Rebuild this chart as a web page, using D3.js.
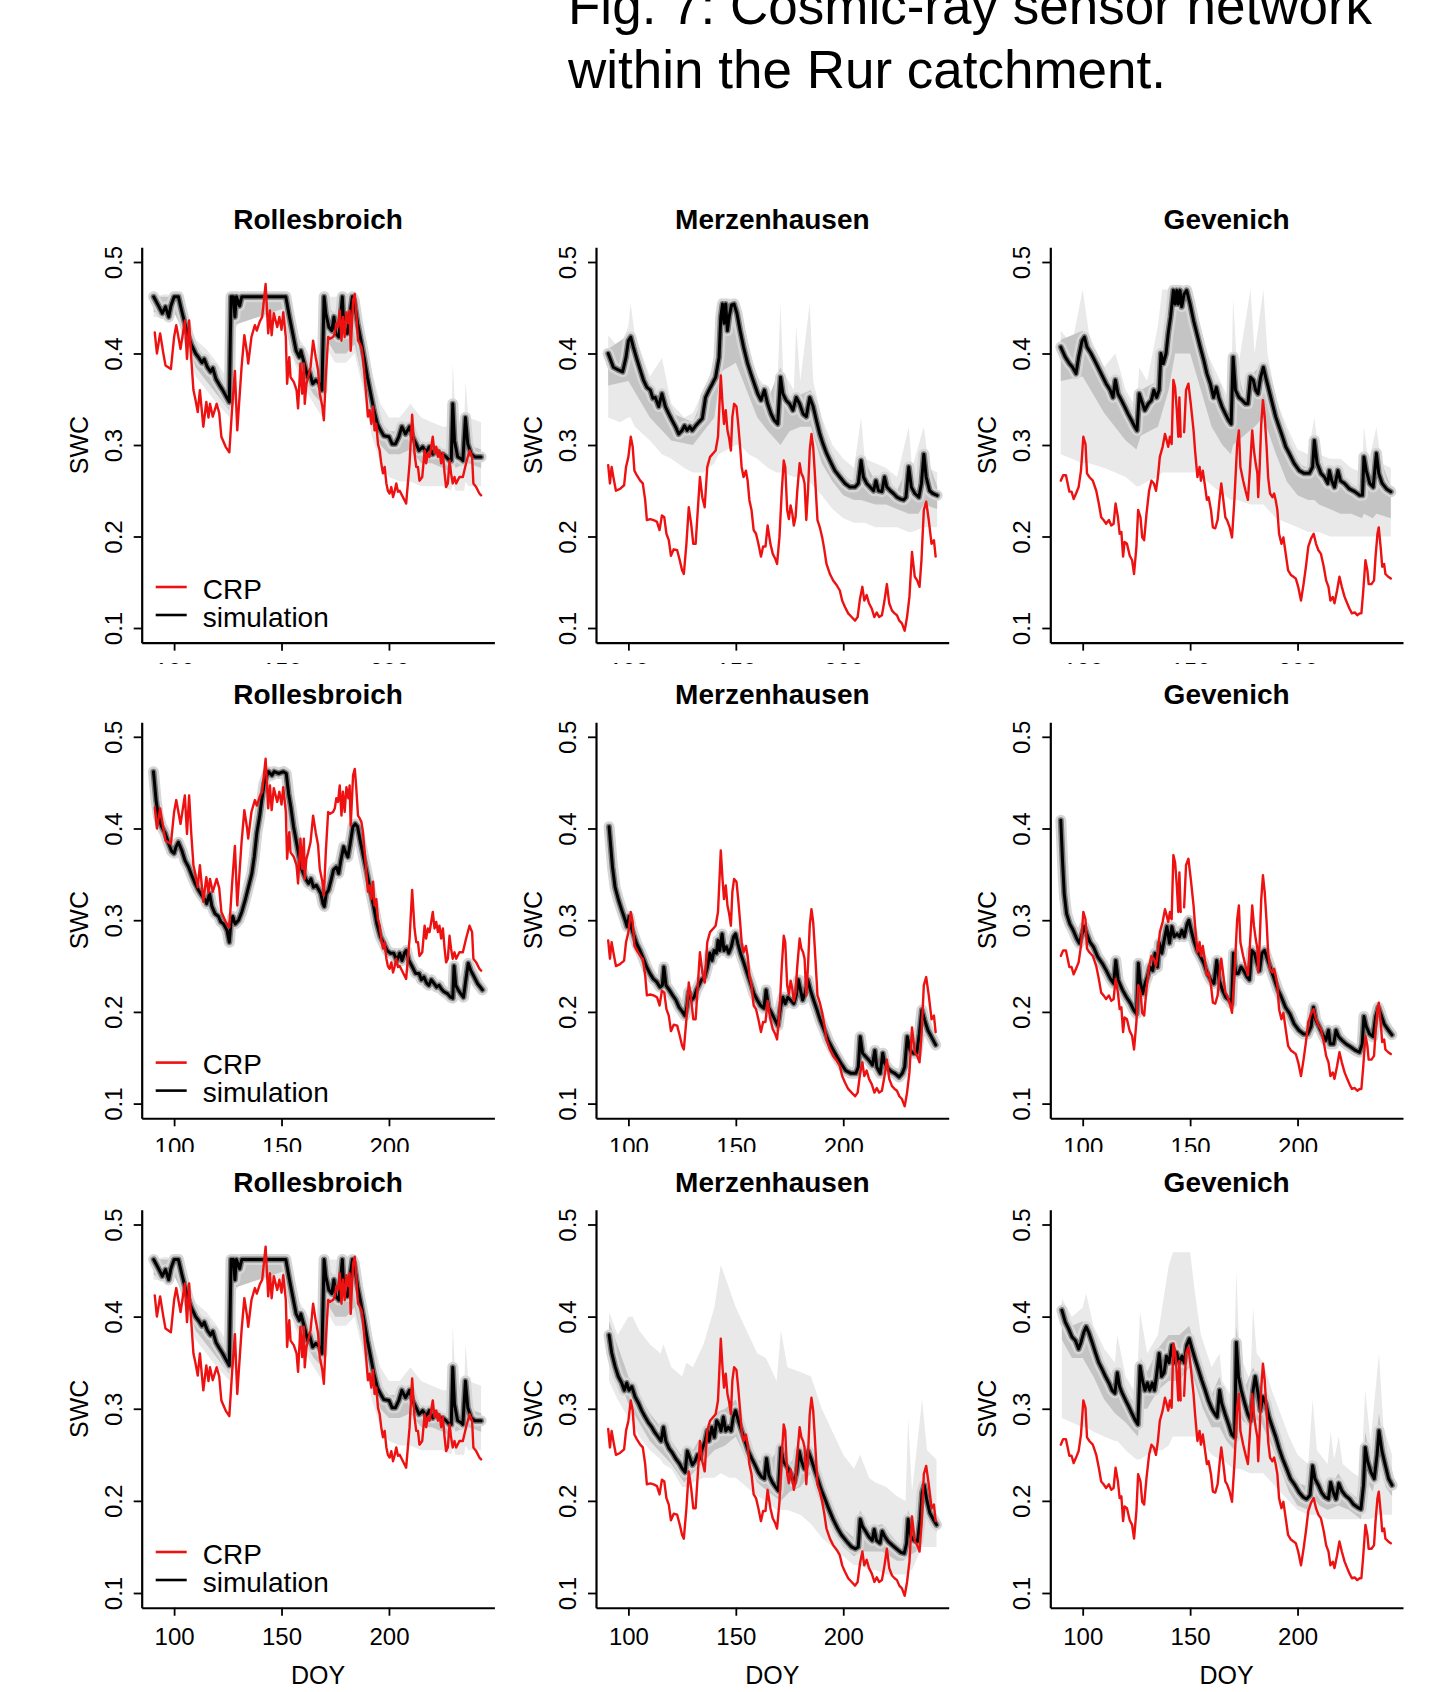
<!DOCTYPE html>
<html>
<head>
<meta charset="utf-8">
<script src="https://cdn.jsdelivr.net/npm/d3@7"></script>
<style>
  body { margin: 0; background: #fff; }
  svg { display: block; }
  text { font-family: "Liberation Sans", Arial, Helvetica, sans-serif; fill: #000; }
</style>
</head>
<body>
<svg id="chart" width="1451" height="1692"></svg>
<script>
// ---- data ---------------------------------------------------------------
const stations = ["Rollesbroich", "Merzenhausen", "Gevenich"];
const doyTicks = [100, 150, 200];
const swcTicks = [0.1, 0.2, 0.3, 0.4, 0.5];
const legendLabels = ["CRP", "simulation"];
const titleLines = ["Fig. 7: Cosmic-ray sensor network", "within the Rur catchment."];

// observed (CRP) soil water content, [DOY, SWC]
const crpRollesbroich = [[91,.423],[92,.400],[93.5,.422],[95,.400],[96,.387],[98.5,.383],[100,.418],[101,.431],[103,.405],[105,.436],[106,.394],[107,.436],[108,.394],[109,.360],[110,.349],[111,.336],[112,.360],[113.6,.320],[115,.347],[116,.330],[116.7,.345],[118,.331],[119.8,.345],[121,.335],[122,.309],[124,.298],[125.7,.292],[127,.340],[128.3,.381],[129.4,.316],[131.4,.385],[132.7,.420],[134,.400],[134.5,.389],[136,.418],[137.6,.431],[138.5,.425],[139.9,.435],[141,.440],[142.6,.476],[143.8,.422],[144.6,.447],[145.4,.420],[146.4,.444],[148,.429],[149,.440],[150,.426],[150.8,.445],[152,.418],[152.6,.367],[153.6,.396],[154.2,.374],[155.7,.369],[157,.360],[157.7,.340],[158.8,.389],[159.6,.356],[160.4,.389],[160.8,.345],[161.6,.367],[162.4,.374],[163.5,.385],[164.7,.414],[165.9,.396],[167,.382],[167.8,.356],[169,.342],[169.7,.327],[170.6,.374],[171.7,.418],[172.4,.416],[174,.418],[174.8,.422],[175.5,.433],[176.3,.429],[177.1,.447],[177.9,.414],[178.6,.440],[179.4,.418],[180.2,.445],[181.1,.433],[181.7,.447],[182.2,.403],[183.3,.458],[184.1,.465],[184.8,.444],[185.6,.414],[186.4,.411],[187.2,.407],[187.9,.396],[188.7,.374],[189.5,.352],[190.2,.331],[191,.338],[191.8,.323],[192.6,.342],[193.3,.316],[194.1,.323],[194.9,.301],[195.7,.294],[196.4,.280],[197.2,.269],[198,.276],[198.8,.258],[199.5,.250],[200.3,.247],[201.1,.254],[201.9,.243],[202.6,.249],[203.4,.258],[204.2,.249],[205,.250],[206.5,.243],[208,.236],[209.6,.280],[210.8,.333],[211.9,.291],[212.7,.276],[213.5,.276],[214.2,.261],[215.5,.265],[216.6,.294],[217.3,.280],[218.1,.291],[218.9,.287],[220.4,.309],[221.2,.291],[222,.298],[222.8,.287],[223.5,.294],[224.3,.280],[225.1,.291],[225.9,.269],[226.6,.254],[227.4,.258],[228.2,.283],[228.9,.269],[229.7,.258],[230.5,.265],[231.3,.258],[232.8,.265],[234.4,.265],[235.9,.280],[237.5,.294],[238.7,.287],[239.3,.258],[240.6,.254],[242.1,.247],[242.9,.245]];

const crpMerzenhausen = [[90.6,.278],[91.4,.258],[92.2,.276],[93,.265],[94.2,.250],[96.1,.252],[98,.256],[98.9,.276],[100,.287],[101.1,.309],[102,.298],[102.8,.272],[103.9,.267],[105.5,.261],[106.7,.258],[107.8,.240],[108.6,.218],[110.2,.219],[111.7,.218],[113.3,.216],[114.5,.207],[115.6,.223],[116.7,.221],[117.7,.203],[118.8,.196],[119.8,.179],[121.1,.186],[122.7,.185],[123.9,.174],[125,.163],[125.8,.159],[127,.192],[128.1,.232],[129.2,.214],[130.2,.192],[131.3,.192],[132,.218],[133.3,.265],[134.4,.243],[135.5,.232],[136.7,.276],[138,.287],[139.5,.291],[140.6,.294],[141.7,.309],[143,.376],[143.8,.345],[144.5,.323],[145.3,.338],[146.1,.316],[146.9,.307],[147.7,.294],[148.4,.331],[149.2,.345],[150.3,.342],[151.1,.323],[152,.298],[152.7,.276],[153.6,.265],[154.7,.272],[155.5,.261],[156.3,.240],[157.3,.229],[158.3,.207],[159.4,.203],[160.5,.192],[161.7,.178],[162.7,.189],[163.8,.189],[164.8,.212],[166.1,.192],[167.2,.181],[168.3,.176],[169.2,.170],[170.3,.199],[171.4,.250],[172.3,.283],[173,.276],[173.9,.229],[174.7,.219],[175.5,.234],[176.3,.225],[177,.212],[177.8,.221],[178.6,.250],[179.7,.280],[180.5,.269],[181.3,.265],[182,.258],[182.8,.218],[183.6,.250],[184.4,.294],[185.2,.312],[186,.298],[186.7,.272],[188,.218],[189.1,.210],[190.2,.199],[191.1,.187],[192.2,.170],[193.8,.159],[195.3,.152],[196.9,.147],[198.4,.141],[199.5,.130],[200.8,.123],[202.3,.116],[203.9,.112],[205.5,.108],[206.7,.112],[207.8,.132],[208.9,.145],[209.8,.130],[210.9,.136],[212,.127],[213.3,.121],[214.5,.112],[215.6,.117],[216.7,.112],[218,.114],[219.2,.130],[220.3,.148],[221.4,.127],[222.7,.119],[223.9,.116],[225,.114],[226.1,.108],[227.3,.105],[228.6,.097],[229.7,.112],[230.8,.134],[232,.183],[233.3,.156],[234.4,.152],[235.5,.145],[236.4,.174],[237.5,.229],[238.6,.238],[239.8,.218],[241.1,.192],[242.2,.196],[243,.178]];

const crpGevenich = [[89.8,.261],[90.9,.267],[92.2,.267],[93,.258],[93.8,.249],[94.8,.249],[95.8,.241],[96.9,.247],[98.1,.254],[99.2,.272],[100.3,.309],[101.3,.301],[102,.269],[103.1,.265],[104.7,.261],[106.3,.250],[107.5,.236],[108.6,.221],[109.7,.218],[110.9,.214],[112.2,.218],[113.3,.212],[114.4,.214],[115.3,.236],[116.4,.221],[117.2,.203],[118,.205],[118.8,.178],[119.5,.194],[120.6,.192],[121.9,.179],[123,.174],[123.9,.159],[125,.189],[125.8,.229],[126.9,.221],[127.7,.199],[128.6,.196],[129.7,.225],[130.9,.250],[132,.261],[133.1,.258],[134.1,.250],[135,.265],[135.9,.287],[137.2,.298],[138.3,.312],[139.1,.305],[139.8,.298],[140.6,.309],[141.4,.301],[142.2,.371],[143,.363],[143.8,.338],[144.5,.309],[145,.352],[145.6,.309],[146.4,null],[147.2,.314],[148.1,.360],[149.2,.367],[150.3,.345],[151.6,.316],[152.3,.294],[153.4,.265],[154.4,.276],[155,.261],[155.9,.272],[157,.254],[157.8,.240],[158.6,.243],[159.7,.229],[160.6,.210],[161.7,.209],[162.8,.218],[163.8,.243],[164.5,.258],[165.3,.243],[166.4,.221],[167.2,.218],[168.4,.210],[169.5,.199],[170.6,.240],[171.9,.301],[172.7,.316],[173.4,.276],[174.7,.261],[175.8,.250],[176.9,.240],[177.8,.272],[178.9,.316],[179.7,.294],[180.5,.280],[181.3,.269],[181.7,.243],[182.3,.272],[183.1,.323],[183.9,.349],[184.7,.331],[185.6,.298],[186.3,.265],[187.2,.247],[188.3,.243],[189.1,.247],[189.8,.240],[190.6,.229],[191.4,.203],[192.5,.192],[193.4,.199],[194.5,.181],[195.6,.163],[196.9,.158],[198.1,.156],[199.2,.154],[200.3,.145],[201.6,.130],[202.8,.148],[203.9,.167],[205,.189],[206.3,.198],[207.5,.203],[208.6,.192],[209.7,.185],[210.9,.181],[212.2,.167],[213.3,.152],[214.4,.145],[215.3,.130],[216.4,.134],[217.2,.127],[218.4,.141],[219.5,.156],[220.6,.145],[221.9,.134],[223.1,.127],[224.2,.121],[225.3,.116],[226.6,.117],[227.8,.114],[228.9,.116],[229.7,.116],[230.5,.138],[231.6,.174],[232.5,.163],[233.1,.148],[234.4,.148],[235.6,.152],[236.3,.178],[237.2,.203],[237.8,.210],[238.8,.185],[239.4,.167],[240.3,.170],[240.9,.159],[242.2,.156],[243.4,.154]];

// simulated SWC (median), row 1
const simRollesbroich1 = [[90.5,.462],[93,.451],[94.5,.444],[96,.451],[97.5,.440],[98.5,.452],[100,.462],[102,.462],[103.5,.447],[105,.433],[106.5,.420],[108,.410],[110,.400],[111.6,.395],[113,.390],[114,.394],[115.5,.385],[117,.380],[118,.384],[119.5,.372],[121,.366],[122.6,.360],[124,.354],[125.7,.347],[126.5,.462],[127.6,.462],[128.3,.440],[129,.462],[130.5,.452],[131.5,.462],[152,.462],[153.7,.440],[155.2,.422],[156.8,.403],[158.3,.396],[159,.403],[160.6,.389],[162.2,.374],[163,.380],[164.5,.367],[166,.371],[167.6,.367],[168.8,.360],[169.8,.462],[170.6,.444],[172,.429],[173.4,.425],[174.4,.440],[175.2,.422],[176.7,.418],[178.3,.462],[179,.429],[180.6,.422],[183,.462],[183.8,.458],[185.4,.433],[187,.414],[188.4,.396],[190,.374],[191.5,.356],[193,.338],[194.6,.323],[196.1,.316],[197.6,.310],[200,.309],[201.5,.301],[203,.301],[204.6,.309],[206,.320],[207.7,.312],[209.6,.320],[211,.309],[212.7,.301],[214,.294],[215.7,.298],[217.3,.292],[218.8,.298],[220.4,.290],[222,.294],[223.5,.290],[225,.290],[226.6,.287],[228.2,.283],[229,.283],[229.7,.345],[230.5,.305],[232,.287],[233.6,.285],[234.4,.283],[235.6,.330],[236.7,.301],[238.3,.290],[240,.287],[242.9,.287]];

const simMerzenhausen1 = [[90.6,.400],[93,.385],[95.3,.382],[97.3,.380],[98.9,.396],[100,.414],[101.1,.418],[102.3,.407],[103.9,.394],[105.5,.382],[107,.371],[108.6,.363],[110.2,.360],[111.4,.351],[112.5,.352],[114.1,.342],[115.6,.356],[117.2,.342],[118.8,.334],[120.3,.327],[121.9,.320],[123.4,.312],[125,.316],[126.1,.321],[127.3,.316],[128.6,.320],[129.7,.316],[131.3,.321],[132.8,.325],[134.4,.329],[135.9,.352],[137.5,.360],[139.1,.367],[140.6,.374],[142.2,.396],[143,.440],[143.8,.454],[144.5,.433],[145.3,.454],[146.1,.425],[146.9,.440],[148,.453],[149.2,.454],[150.5,.444],[152,.425],[153.6,.407],[155.5,.389],[157,.378],[158.6,.367],[160.2,.356],[161.7,.349],[163.3,.360],[164.8,.345],[166.4,.334],[167.9,.327],[169.5,.323],[170.8,.374],[171.9,.356],[173.4,.349],[175,.345],[176.6,.338],[178.1,.352],[179.7,.345],[181.3,.334],[182.8,.331],[184.4,.352],[186,.342],[187.5,.327],[189.1,.312],[190.6,.301],[192.2,.291],[193.8,.283],[196.1,.272],[198.4,.265],[200.8,.258],[203.1,.254],[205.5,.254],[207,.258],[208.3,.283],[209.4,.265],[210.9,.258],[212.5,.254],[214.1,.250],[215.2,.261],[216.4,.250],[218,.249],[219.2,.265],[220.3,.254],[221.9,.250],[223.4,.247],[225,.243],[226.6,.241],[228.1,.240],[229.2,.243],[230.5,.276],[231.7,.254],[233.3,.247],[235.2,.243],[236.4,.258],[237.5,.290],[238.6,.265],[240.2,.250],[241.7,.247],[243.7,.245]];

const simGevenich1 = [[89.8,.407],[91.9,.396],[93.8,.389],[95.3,.385],[96.9,.378],[98.1,.396],[99.7,.414],[100.8,.418],[102,.407],[103.9,.400],[106.3,.389],[108.6,.378],[110.9,.367],[112.8,.360],[114.1,.352],[115.2,.371],[116.4,.356],[118,.349],[119.5,.342],[121.1,.334],[122.7,.327],[124.2,.320],[125.3,.316],[126.3,.356],[127.3,.349],[128.9,.338],[130.5,.345],[132,.349],[133.1,.360],[134.4,.352],[135.6,.360],[136.4,.400],[137.5,.389],[138.8,.400],[139.8,.422],[140.9,.440],[142.2,.469],[143,.454],[143.8,.469],[144.5,.454],[145.3,.469],[146.1,.451],[147.2,.465],[148.4,.469],[150,.454],[151.6,.436],[153.1,.422],[154.7,.407],[156.3,.393],[157.8,.378],[159.4,.367],[160.9,.352],[162.2,.363],[163.3,.352],[164.8,.342],[166.4,.334],[167.9,.327],[169.1,.323],[170,.396],[171.1,.360],[172.7,.352],[174.2,.349],[175.8,.345],[176.9,.345],[178.1,.374],[179.4,.371],[180.5,.360],[181.6,.356],[182.8,.374],[184.1,.385],[185.2,.374],[186.7,.360],[188.3,.345],[189.8,.331],[191.4,.320],[193,.309],[194.5,.298],[196.1,.291],[198.4,.280],[200.8,.272],[203.1,.269],[205.5,.269],[207,.276],[207.8,.305],[209.1,.280],[210.9,.269],[212.5,.265],[214.1,.258],[214.8,.272],[215.9,.261],[217.2,.254],[218.8,.272],[220,.261],[221.9,.258],[224.2,.252],[226.6,.249],[228.9,.245],[230.2,.245],[230.9,.287],[232,.272],[233.6,.258],[235.2,.254],[236.7,.291],[237.8,.269],[239.4,.258],[241.4,.252],[243.4,.249]];

// simulated SWC, row 2
const simRollesbroich2 = [[90.4,.462],[91.6,.431],[92.7,.413],[94.2,.402],[95.8,.395],[97.4,.384],[98.9,.375],[100,.373],[100.9,.380],[102,.385],[103.6,.376],[105.1,.365],[106.7,.358],[108.2,.349],[109.8,.340],[111.3,.333],[112.9,.327],[114.5,.322],[115.2,.318],[116.5,.329],[117.6,.315],[119.1,.307],[120.7,.304],[121.8,.298],[123,.296],[124.6,.289],[125.7,.276],[126.4,.296],[127.3,.304],[128.4,.296],[130,.300],[131.5,.309],[133.1,.322],[134.6,.336],[136.2,.351],[137.3,.369],[138.5,.395],[139.8,.413],[140.8,.431],[141.9,.449],[143.2,.458],[143.9,.462],[145.5,.458],[146.6,.462],[148.6,.460],[150.9,.462],[152.2,.460],[153.3,.438],[154.3,.424],[155.6,.402],[156.8,.387],[157.9,.373],[159,.358],[160.2,.351],[161.5,.344],[162.6,.340],[163.7,.345],[164.9,.336],[166.2,.338],[167.4,.333],[168.3,.329],[169.3,.318],[169.9,.315],[170.8,.329],[171.9,.333],[173.1,.344],[174.2,.355],[175.5,.358],[176.6,.351],[177.6,.365],[178.9,.380],[180,.373],[180.9,.369],[182,.384],[183.2,.402],[184.3,.405],[185.4,.402],[186.6,.387],[188.2,.369],[189.8,.351],[191.3,.333],[192.9,.315],[194.4,.296],[196,.282],[197.5,.275],[199.1,.267],[200.6,.264],[202.2,.264],[203.7,.256],[205,.264],[206.1,.256],[207.2,.264],[208.1,.267],[209.3,.256],[210.9,.249],[212.4,.242],[214,.242],[215.1,.235],[216.3,.238],[217.6,.231],[218.6,.229],[219.7,.235],[221,.231],[222.2,.227],[223.3,.229],[224.4,.225],[225.6,.222],[227.2,.220],[228.7,.216],[229.7,.215],[230.3,.250],[231.1,.229],[232.2,.224],[233.4,.220],[234.7,.216],[235.8,.235],[236.9,.253],[238.1,.245],[239.7,.238],[241.2,.231],[243.5,.224]];

const simMerzenhausen2 = [[91,.402],[91.8,.380],[92.6,.358],[93.8,.336],[95.4,.322],[96.9,.311],[98.5,.300],[99.4,.293],[100.3,.304],[101.2,.293],[102.3,.285],[103.9,.274],[105.4,.267],[107,.258],[108.5,.249],[110,.242],[111.6,.236],[113.1,.233],[114.7,.227],[115.8,.229],[116.5,.249],[117.5,.229],[119,.224],[120.6,.218],[122.1,.213],[123.6,.205],[125.2,.200],[126.3,.196],[127.2,.205],[128.1,.222],[129.4,.213],[130.6,.216],[131.7,.224],[132.8,.229],[134,.235],[135.5,.238],[136.8,.249],[137.9,.264],[138.9,.256],[139.9,.267],[141,.264],[141.7,.278],[142.5,.267],[143.6,.285],[144.5,.267],[145.6,.271],[146.7,.264],[147.9,.271],[149,.282],[149.9,.285],[151,.274],[152.2,.264],[153.8,.253],[155.3,.242],[156.9,.231],[158.4,.220],[160,.213],[161.5,.207],[163.1,.204],[164.1,.224],[165.2,.205],[166.8,.198],[168.3,.191],[169.6,.185],[170.8,.205],[171.9,.216],[173,.209],[174.2,.216],[175.4,.213],[177,.209],[178.1,.218],[179.1,.235],[180.1,.224],[181.1,.213],[182.2,.220],[183.5,.235],[184.7,.224],[186.2,.213],[187.8,.202],[189.3,.191],[191.2,.180],[193,.169],[195,.160],[197.1,.151],[198.9,.144],[201.2,.136],[203.6,.133],[205.9,.133],[207,.140],[207.9,.173],[209,.155],[210.5,.151],[212.1,.147],[213.6,.142],[214.7,.158],[215.6,.140],[217.2,.133],[218.4,.155],[219.3,.144],[220.9,.138],[222.4,.135],[224,.133],[226,.129],[227.5,.133],[228.6,.140],[229.8,.173],[231.1,.158],[232.6,.155],[234.2,.155],[235.4,.176],[236.6,.202],[237.9,.191],[239.4,.180],[241,.173],[243,.164]];

const simGevenich2 = [[89.8,.409],[90.6,.365],[91.4,.329],[92.5,.307],[94,.296],[95.6,.289],[97.2,.280],[98.4,.275],[99.7,.285],[100.8,.293],[101.9,.285],[103.4,.276],[105,.271],[107,.260],[109.1,.253],[111,.245],[112.9,.236],[114.4,.231],[115.4,.256],[116.5,.235],[118.5,.224],[120.4,.216],[122.3,.209],[123.8,.202],[125.1,.198],[125.9,.253],[126.6,.235],[127.9,.220],[129,.231],[130.1,.238],[131.3,.249],[132.6,.245],[133.7,.264],[134.8,.249],[135.7,.275],[136.8,.264],[137.9,.278],[139.2,.293],[140.4,.275],[141.5,.293],[142.6,.282],[143.9,.285],[145.1,.282],[146.2,.289],[147.3,.282],[148.6,.296],[149.4,.300],[150.5,.289],[151.7,.278],[153.3,.267],[154.9,.260],[156.4,.253],[158,.242],[159.6,.235],[161.1,.231],[162.4,.256],[163.5,.235],[165,.224],[166.6,.216],[168.2,.213],[169.3,.209],[170.2,.264],[171.2,.242],[172.4,.242],[173.7,.249],[174.9,.245],[176.5,.238],[177.6,.235],[178.7,.267],[179.9,.264],[181.2,.253],[182.3,.245],[183.4,.264],[184.6,.267],[186.2,.256],[187.8,.245],[189.3,.235],[190.9,.224],[192.5,.216],[194.4,.205],[196.4,.198],[198.4,.187],[200.6,.180],[202.7,.176],[204.7,.176],[206.3,.184],[207.4,.205],[208.5,.191],[210,.184],[211.6,.176],[213.2,.169],[214.4,.180],[215.2,.165],[216.8,.165],[217.9,.180],[219.1,.173],[220.7,.169],[222.6,.165],[224.6,.162],[227,.158],[228.8,.156],[230.1,.165],[230.9,.195],[232,.184],[233.5,.176],[235.1,.173],[236.4,.195],[237.6,.205],[238.7,.198],[240.3,.187],[242.3,.180],[243.9,.175]];

// simulated SWC, row 3 (Rollesbroich identical to row 1)
const simRollesbroich3 = simRollesbroich1;

const simMerzenhausen3 = [[91,.380],[92.2,.361],[93.8,.346],[95.3,.335],[96.9,.328],[98.1,.320],[99.2,.328],[100.3,.320],[101.6,.324],[103.1,.313],[104.7,.306],[106.2,.298],[107.8,.291],[109.3,.285],[110.9,.280],[112.4,.274],[114,.269],[115.2,.265],[116.3,.280],[117.4,.265],[118.9,.257],[120.5,.252],[122,.246],[123.6,.241],[125.1,.235],[126.4,.231],[127.4,.254],[128.7,.246],[129.8,.239],[131,.243],[132.2,.250],[133.3,.246],[134.4,.257],[135.7,.265],[136.7,.276],[137.5,.265],[138.8,.280],[140,.269],[141.1,.287],[142.2,.283],[143.1,.276],[144.2,.291],[145.3,.276],[146.5,.280],[147.8,.276],[148.8,.291],[149.9,.298],[151.2,.287],[152.7,.276],[154.3,.265],[155.8,.254],[157.4,.246],[158.9,.239],[160.5,.231],[162,.226],[163.3,.224],[164.3,.246],[165.4,.228],[167,.220],[168.5,.215],[169.8,.211],[171,.257],[172.1,.243],[173.2,.239],[174.4,.235],[175.7,.228],[177.2,.220],[178.3,.231],[179.5,.254],[180.6,.243],[181.9,.235],[182.9,.239],[183.7,.254],[185,.246],[186.5,.235],[188.1,.224],[189.6,.213],[191.5,.202],[193.3,.191],[195.3,.180],[197.4,.170],[199.2,.163],[201.6,.156],[203.9,.150],[205.7,.148],[207,.150],[207.9,.180],[209,.172],[210.4,.167],[211.9,.161],[213.5,.157],[214.4,.169],[215.5,.157],[217.1,.154],[218.1,.167],[219.4,.161],[220.9,.156],[222.8,.152],[224.8,.148],[226.8,.144],[228.4,.143],[229.5,.154],[230.2,.180],[231.5,.161],[233,.157],[234.6,.156],[235.8,.180],[236.7,.209],[237.7,.217],[238.8,.202],[240.3,.187],[241.9,.180],[243.4,.174]];

const simGevenich3 = [[90.3,.407],[91.9,.394],[93.4,.387],[95,.378],[96.6,.374],[98.1,.365],[99.2,.372],[100.5,.383],[101.6,.389],[102.8,.383],[104.4,.372],[105.9,.361],[107.5,.350],[109,.343],[110.6,.335],[112.2,.328],[113.7,.320],[115,.317],[116.1,.339],[117.2,.324],[118.4,.317],[120,.309],[121.5,.302],[123.1,.294],[124.6,.287],[125.7,.283],[126.7,.346],[127.8,.331],[129,.320],[130.1,.328],[131.2,.320],[132.4,.328],[133.4,.320],[134.3,.335],[135.6,.360],[136.7,.335],[137.9,.339],[139,.357],[140.2,.350],[141.5,.369],[142.6,.350],[143.7,.361],[144.9,.350],[146.2,.357],[147.3,.350],[148.4,.369],[149.6,.376],[150.9,.365],[152.3,.354],[153.8,.343],[155.4,.331],[157,.320],[158.5,.309],[160.1,.300],[161.6,.294],[162.6,.291],[163.7,.320],[164.7,.306],[166.3,.294],[167.9,.283],[169.4,.272],[170.7,.269],[171.5,.372],[172.5,.335],[173.8,.320],[175.4,.306],[176.9,.294],[178.2,.287],[179.3,.320],[180.3,.335],[181.6,.317],[182.7,.298],[183.9,.313],[185.2,.306],[186.7,.291],[188.3,.280],[189.9,.269],[191.4,.257],[193,.246],[194.9,.235],[196.7,.224],[198.8,.217],[200.8,.209],[202.7,.204],[204.2,.202],[205.8,.206],[207,.238],[208.1,.224],[209.7,.217],[211.2,.209],[212.8,.204],[214.4,.202],[215.4,.220],[216.7,.209],[217.9,.202],[219.2,.219],[220.6,.211],[222.2,.206],[224.2,.202],[226.1,.196],[227.9,.193],[229.5,.191],[230.7,.217],[231.5,.258],[232.6,.243],[234.2,.231],[235.7,.224],[237,.250],[237.9,.276],[239.3,.254],[240.8,.239],[242.4,.224],[244,.217]];

// ensemble bands [DOY, lower, upper]: outer (light) and inner (medium grey)
const outerRollesbroich1 = [[90.5,.440,.462],[96,.440,.465],[100,.445,.462],[103,.430,.462],[106,.400,.440],[110,.375,.415],[115,.360,.405],[120,.345,.390],[124,.335,.375],[126,.330,.370],[126.5,.420,.462],[132,.440,.462],[152,.440,.462],[156,.390,.425],[160,.365,.410],[165,.345,.390],[169,.330,.385],[169.8,.410,.462],[175,.390,.462],[180,.390,.462],[184,.400,.462],[188,.360,.430],[192,.310,.380],[196,.280,.345],[200,.265,.330],[205,.260,.330],[210,.260,.345],[215,.255,.330],[220,.255,.325],[225,.255,.320],[229,.250,.320],[229.7,.260,.390],[231,.250,.330],[235,.250,.320],[235.6,.260,.370],[237,.255,.330],[242.9,.255,.325]];
const innerRollesbroich1 = [[90.5,.445,.462],[100,.445,.462],[104,.425,.455],[110,.385,.405],[115,.370,.392],[120,.355,.378],[125.7,.338,.355],[126.5,.430,.462],[152,.450,.462],[156,.395,.420],[160,.375,.400],[165,.355,.380],[169,.345,.365],[169.8,.420,.462],[175,.400,.440],[180,.400,.462],[184,.410,.462],[188,.370,.410],[192,.330,.360],[196,.300,.325],[200,.290,.315],[205,.290,.315],[210,.295,.325],[215,.280,.300],[220,.280,.300],[225,.275,.295],[229,.270,.290],[229.7,.285,.350],[231,.275,.300],[235.6,.280,.335],[237,.280,.300],[242.9,.275,.295]];

const outerMerzenhausen1 = [[90.6,.330,.420],[96,.325,.405],[100,.330,.430],[101,.330,.455],[103,.320,.420],[110,.305,.375],[115.6,.290,.395],[120,.285,.345],[126,.275,.330],[130,.270,.335],[135,.270,.360],[140,.280,.390],[142,.290,.460],[150,.300,.460],[152,.300,.440],[156,.290,.405],[160,.285,.375],[165,.275,.360],[169,.270,.345],[170.8,.270,.455],[172,.270,.380],[177,.265,.360],[178.1,.265,.430],[180,.265,.370],[184.4,.260,.455],[186,.255,.370],[190,.245,.330],[195,.230,.300],[200,.220,.285],[205,.215,.275],[208.3,.215,.330],[210,.215,.285],[215,.210,.280],[220,.210,.275],[225,.210,.265],[230.5,.205,.320],[232,.205,.275],[237.5,.210,.320],[240,.210,.275],[243.7,.210,.270]];
const innerMerzenhausen1 = [[90.6,.365,.405],[100,.370,.420],[110,.330,.365],[120,.305,.335],[130,.300,.325],[140,.330,.380],[143,.380,.455],[150,.390,.456],[155,.360,.395],[160,.330,.360],[165,.315,.350],[170.8,.300,.385],[175,.315,.350],[180,.320,.355],[185,.320,.360],[190,.280,.310],[195,.260,.285],[200,.245,.265],[205,.240,.260],[208.3,.240,.290],[215,.235,.260],[220,.235,.260],[225,.230,.250],[230.5,.225,.280],[235,.225,.250],[237.5,.235,.295],[243.7,.230,.255]];

const outerGevenich1 = [[89.8,.290,.425],[95,.285,.410],[100,.280,.470],[103,.280,.420],[110,.275,.385],[115.2,.270,.400],[120,.265,.360],[125,.255,.340],[126.3,.255,.385],[130,.260,.370],[135,.265,.430],[137,.270,.470],[150,.270,.470],[153,.270,.440],[158,.260,.400],[163,.250,.375],[169,.240,.345],[170,.240,.460],[172,.240,.380],[178.1,.235,.470],[180,.235,.400],[184.1,.235,.470],[186,.230,.400],[190,.220,.350],[195,.215,.320],[200,.210,.295],[205,.205,.290],[207.8,.205,.330],[210,.205,.290],[215,.200,.285],[220,.200,.285],[225,.200,.275],[230,.200,.270],[230.9,.200,.320],[233,.200,.280],[236.7,.200,.320],[239,.200,.280],[243.4,.200,.275]];
const innerGevenich1 = [[89.8,.370,.415],[100,.375,.425],[110,.335,.375],[120,.305,.350],[125,.295,.325],[127,.310,.360],[135,.320,.370],[140,.360,.450],[143,.400,.470],[150,.400,.470],[155,.360,.415],[160,.320,.360],[165,.300,.350],[169,.290,.330],[170,.300,.400],[175,.310,.355],[180,.320,.380],[184,.330,.390],[190,.290,.335],[195,.260,.300],[200,.245,.280],[205,.240,.275],[207.8,.240,.310],[210,.235,.275],[215,.230,.265],[220,.225,.265],[225,.225,.255],[230,.220,.250],[230.9,.225,.290],[235,.220,.260],[236.7,.225,.295],[243.4,.220,.255]];

const outerMerzenhausen3 = [[91,.330,.405],[95,.310,.380],[100,.290,.400],[102,.285,.400],[105,.270,.385],[110,.255,.370],[115,.245,.360],[116.3,.240,.370],[120,.235,.345],[125,.215,.335],[127,.215,.350],[130,.220,.345],[135,.225,.370],[140,.225,.410],[143,.230,.456],[147,.225,.430],[150,.225,.410],[155,.215,.385],[160,.205,.360],[164,.200,.355],[169,.190,.330],[171,.190,.385],[174,.190,.345],[180,.185,.340],[185,.175,.335],[190,.160,.300],[195,.150,.275],[200,.140,.250],[205,.130,.235],[207.9,.130,.250],[212,.125,.225],[215,.125,.220],[220,.120,.215],[225,.120,.205],[229,.120,.200],[230.2,.125,.290],[232,.125,.210],[236.7,.150,.310],[239,.150,.255],[243.4,.150,.245]];
const innerMerzenhausen3 = [[91,.365,.395],[100,.305,.335],[110,.265,.295],[120,.240,.265],[126,.220,.245],[130,.230,.255],[140,.255,.295],[145,.260,.300],[150,.270,.310],[155,.245,.270],[160,.220,.245],[165,.210,.240],[171,.200,.260],[175,.210,.240],[180,.215,.255],[185,.230,.255],[190,.195,.220],[195,.170,.190],[200,.150,.170],[205,.140,.160],[207.9,.145,.190],[212,.145,.170],[218,.145,.175],[225,.135,.155],[228,.135,.150],[230.2,.140,.190],[234,.145,.165],[237.5,.205,.230],[243.4,.165,.185]];

const outerGevenich3 = [[90.3,.290,.420],[95,.285,.400],[100,.280,.410],[101.6,.280,.425],[105,.275,.390],[110,.270,.365],[115,.265,.350],[116.1,.265,.380],[120,.255,.335],[125,.245,.315],[126.7,.245,.405],[130,.250,.360],[135,.255,.380],[137,.255,.410],[140,.260,.455],[142,.270,.470],[150,.270,.470],[152,.270,.430],[155,.265,.380],[160,.250,.345],[163.7,.245,.360],[165,.245,.330],[170,.235,.310],[171.5,.235,.450],[173,.235,.360],[178,.230,.330],[179.3,.230,.410],[181,.230,.360],[184,.230,.350],[188,.220,.320],[192,.210,.295],[196,.200,.270],[200,.190,.250],[205,.185,.240],[207,.185,.310],[209,.185,.255],[214,.180,.240],[215.4,.180,.275],[217,.180,.245],[219.2,.180,.270],[221,.180,.240],[226,.180,.230],[229.5,.180,.225],[231.5,.180,.320],[234,.180,.265],[237.9,.185,.360],[240,.185,.280],[244,.185,.250]];
const innerGevenich3 = [[90.3,.375,.415],[95,.355,.390],[100,.355,.395],[105,.335,.375],[110,.310,.350],[115,.295,.330],[120,.285,.320],[125.7,.270,.300],[127,.300,.355],[130,.300,.340],[135,.320,.365],[140,.330,.380],[145,.330,.380],[149.6,.345,.390],[152,.330,.370],[156,.300,.340],[160,.280,.315],[163.7,.280,.335],[167,.265,.300],[170.7,.255,.285],[171.5,.300,.390],[175,.285,.320],[179.3,.290,.345],[183,.285,.325],[188,.260,.295],[192,.235,.265],[196,.210,.240],[200,.195,.220],[205,.190,.215],[207,.205,.245],[210,.195,.225],[214,.190,.210],[219,.195,.230],[224,.190,.210],[229.5,.180,.200],[231.5,.225,.275],[235,.210,.235],[237.9,.245,.295],[241,.215,.245],[244,.205,.230]];

// ---- layout ----------------------------------------------------------------
const colLeft = [141.7, 596, 1050.3];
const plotW = 352.7;
const rowGeom = [
  { y5: 262, y1: 628, clipTop: 0, clipBottom: 664 },
  { y5: 736.8, y1: 1103.6, clipTop: 664, clipBottom: 1152 },
  { y5: 1224.5, y1: 1593, clipTop: 1152, clipBottom: 1692 }
];

const panels = [
  { row: 0, col: 0, crp: crpRollesbroich, sim: simRollesbroich1, outer: outerRollesbroich1, inner: innerRollesbroich1 },
  { row: 0, col: 1, crp: crpMerzenhausen, sim: simMerzenhausen1, outer: outerMerzenhausen1, inner: innerMerzenhausen1 },
  { row: 0, col: 2, crp: crpGevenich, sim: simGevenich1, outer: outerGevenich1, inner: innerGevenich1 },
  { row: 1, col: 0, crp: crpRollesbroich, sim: simRollesbroich2 },
  { row: 1, col: 1, crp: crpMerzenhausen, sim: simMerzenhausen2 },
  { row: 1, col: 2, crp: crpGevenich, sim: simGevenich2 },
  { row: 2, col: 0, crp: crpRollesbroich, sim: simRollesbroich3, outer: outerRollesbroich1, inner: innerRollesbroich1 },
  { row: 2, col: 1, crp: crpMerzenhausen, sim: simMerzenhausen3, outer: outerMerzenhausen3, inner: innerMerzenhausen3 },
  { row: 2, col: 2, crp: crpGevenich, sim: simGevenich3, outer: outerGevenich3, inner: innerGevenich3 }
];

const svg = d3.select("#chart");
svg.append("rect").attr("width", 1451).attr("height", 1692).attr("fill", "#fff");

// figure caption (top line runs off the top edge)
svg.selectAll(".caption")
  .data(titleLines)
  .join("text")
  .attr("class", "caption")
  .attr("x", 568)
  .attr("y", (d, i) => 24 + i * 64)
  .attr("font-size", 53)
  .text(d => d);

const defs = svg.append("defs");
rowGeom.forEach((g, i) => {
  defs.append("clipPath").attr("id", "rowclip" + i)
    .append("rect")
    .attr("x", 0).attr("y", g.clipTop)
    .attr("width", 1451).attr("height", g.clipBottom - g.clipTop);
});

panels.forEach(p => {
  const g = rowGeom[p.row];
  const left = colLeft[p.col];
  const k = (g.y1 - g.y5) / 0.4;

  const x = d3.scaleLinear().domain([84.92, 249.08]).range([left, left + plotW]);
  const y = d3.scaleLinear().domain([0.084, 0.516]).range([g.y1 + 0.016 * k, g.y5 - 0.016 * k]);

  const root = svg.append("g").attr("clip-path", `url(#rowclip${p.row})`);

  const area = d3.area()
    .x(d => x(d[0]))
    .y0(d => y(d[1]))
    .y1(d => y(d[2]));

  const line = d3.line()
    .defined(d => d[1] != null)
    .x(d => x(d[0]))
    .y(d => y(d[1]));

  if (p.outer) {
    root.append("path").datum(p.outer).attr("d", area).attr("fill", "#e9e9e9");
  }
  if (p.inner) {
    root.append("path").datum(p.inner).attr("d", area).attr("fill", "#c4c4c4");
  }

  // soft halo round the median line
  root.append("path").datum(p.sim).attr("d", line)
    .attr("fill", "none").attr("stroke", "#d6d6d6").attr("stroke-width", 11)
    .attr("stroke-linejoin", "round").attr("stroke-linecap", "round");
  root.append("path").datum(p.sim).attr("d", line)
    .attr("fill", "none").attr("stroke", "#7a7a7a").attr("stroke-width", 6)
    .attr("stroke-linejoin", "round").attr("stroke-linecap", "round");
  root.append("path").datum(p.sim).attr("d", line)
    .attr("fill", "none").attr("stroke", "#000").attr("stroke-width", 3)
    .attr("stroke-linejoin", "round").attr("stroke-linecap", "round");

  root.append("path").datum(p.crp).attr("d", line)
    .attr("fill", "none").attr("stroke", "#ee1111").attr("stroke-width", 2.4)
    .attr("stroke-linejoin", "round").attr("stroke-linecap", "round");

  // axes
  const yAxis = root.append("g")
    .attr("transform", `translate(${left},0)`)
    .call(d3.axisLeft(y).tickValues(swcTicks).tickSize(8).tickSizeOuter(0).tickFormat(d3.format(".1f")));
  yAxis.select(".domain").attr("stroke-width", 2.2);
  yAxis.selectAll(".tick line").attr("stroke-width", 1.8);
  yAxis.selectAll(".tick text")
    .attr("transform", "rotate(-90)")
    .attr("x", 0).attr("y", -20).attr("dy", 0)
    .attr("text-anchor", "middle")
    .attr("font-size", 24)
    .attr("font-family", "Liberation Sans, Arial, sans-serif");

  const xAxis = root.append("g")
    .attr("transform", `translate(0,${y.range()[0]})`)
    .call(d3.axisBottom(x).tickValues(doyTicks).tickSize(8).tickSizeOuter(0));
  xAxis.select(".domain").attr("stroke-width", 2.2);
  xAxis.selectAll(".tick line").attr("stroke-width", 1.8);
  xAxis.selectAll(".tick text")
    .attr("y", 37).attr("dy", 0)
    .attr("font-size", 24)
    .attr("font-family", "Liberation Sans, Arial, sans-serif");

  // panel title
  root.append("text")
    .attr("x", left + plotW / 2)
    .attr("y", g.y5 - 33)
    .attr("text-anchor", "middle")
    .attr("font-size", 28)
    .attr("font-weight", "bold")
    .text(stations[p.col]);

  // y label
  const midY = (g.y1 + g.y5) / 2;
  root.append("text")
    .attr("transform", `translate(${left - 54},${midY}) rotate(-90)`)
    .attr("text-anchor", "middle")
    .attr("font-size", 25)
    .text("SWC");

  if (p.row === 2) {
    root.append("text")
      .attr("x", left + plotW / 2)
      .attr("y", y.range()[0] + 76)
      .attr("text-anchor", "middle")
      .attr("font-size", 25)
      .text("DOY");
  }

  // legend in the first column
  if (p.col === 0) {
    const legendColors = ["#ee1111", "#000"];
    const leg = root.append("g");
    legendLabels.forEach((lab, i) => {
      const ly = g.y1 - 41 + i * 28;
      leg.append("line")
        .attr("x1", left + 14).attr("x2", left + 45)
        .attr("y1", ly).attr("y2", ly)
        .attr("stroke", legendColors[i]).attr("stroke-width", 2.6);
      leg.append("text")
        .attr("x", left + 61).attr("y", ly + 11.5)
        .attr("font-size", 28)
        .text(lab);
    });
  }
});
</script>
</body>
</html>
